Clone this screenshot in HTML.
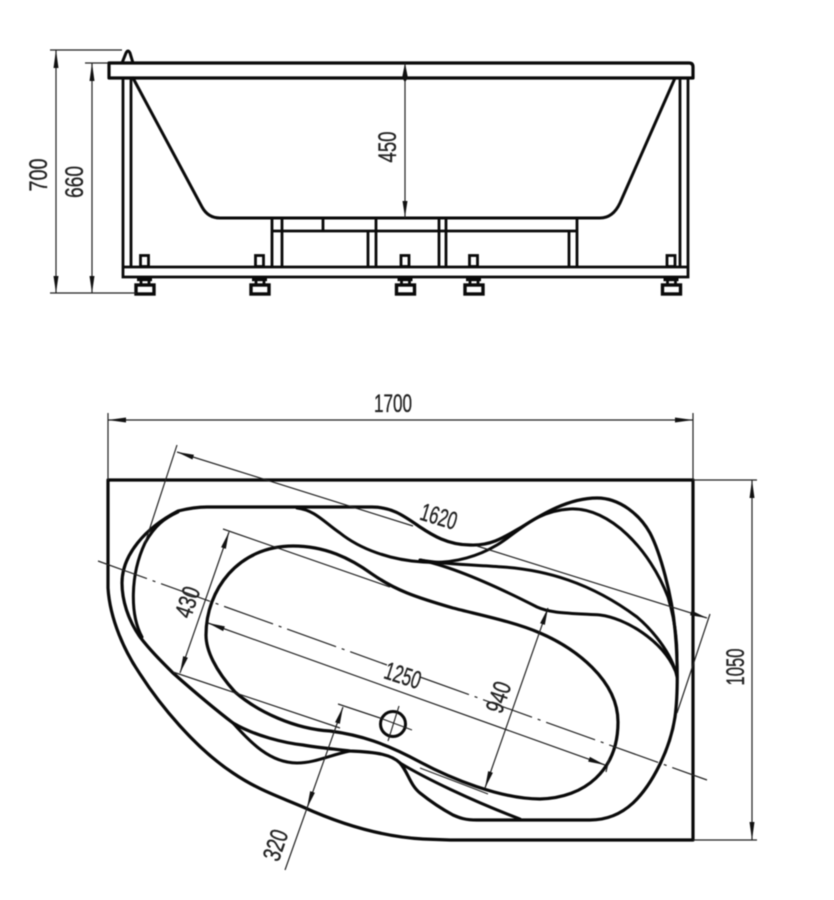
<!DOCTYPE html>
<html lang="en">
<head>
<meta charset="utf-8">
<title>Bathtub dimensions</title>
<style>
html,body{margin:0;padding:0;background:#fff;width:834px;height:900px;overflow:hidden}
svg{display:block;filter:blur(.4px)}
.k{fill:none;stroke:#0a0a0a;stroke-width:3;stroke-linecap:round;stroke-linejoin:round}
.m{fill:none;stroke:#0a0a0a;stroke-width:2.8}
.d{fill:none;stroke:#222;stroke-width:1.2}
.a{fill:#111;stroke:none}
text{font-family:"Liberation Sans",sans-serif;font-size:25px;fill:#222;stroke:#222;stroke-width:.35;text-anchor:middle}
</style>
</head>
<body>
<svg width="834" height="900" viewBox="0 0 834 900" xmlns="http://www.w3.org/2000/svg">
<rect width="834" height="900" fill="#fff"/>

<!-- side view: rim -->
<path class="k" d="M122 63 L126 53 Q128 49 130 53 L133 63"/>
<path class="k" style="stroke-width:3.200" d="M109 63 H689 Q693 63 693 67 V78 H109 Z"/>
<!-- tub -->
<path class="k" d="M133 78 L202 207 Q208 218 220 218 H600 Q613 218 620 203 L675 78"/>
<!-- frame -->
<path class="m" d="M123 78 V277 H688 V78 M131 78 V267 M680 78 V267 M123 267 H688"/>
<!-- supports -->
<path class="m" d="M272 218 V267 M282 218 V267 M272 231 H577 M323 218 V231 M376 218 V267 M368 231 V267 M439 218 V267 M446 218 V267 M577 218 V267 M569 231 V267"/>
<!-- feet -->
<g id="f1" fill="none" stroke="#0a0a0a" stroke-width="2.800">
<rect x="140.500" y="255.500" width="8" height="11"/>
<rect x="136" y="285" width="18" height="9" stroke-width="3.400"/>
<path d="M137 279.500 H152" stroke-width="3.400"/>
<path d="M141 280 V285 M149 280 V285"/>
</g>
<use href="#f1" x="115"/>
<use href="#f1" x="260.500"/>
<use href="#f1" x="329"/>
<use href="#f1" x="526.500"/>

<!-- side dims -->
<path class="d" d="M50 50 H122 M50 293 H136 M85 63 H108 M56 50 V293 M92 63 V293 M405 63 V218"/>
<path class="a" d="M56 50 L58.500 68 H53.500 Z M56 293 L58.500 276 H53.500 Z M92 63 L94.500 81 H89.500 Z M92 293 L94.500 276 H89.500 Z M405 63 L408 78 L405 82 L402 78 Z M405 217 L407.500 201 H402.500 Z"/>
<text transform="translate(38,175) rotate(-90)" y="9" textLength="33" lengthAdjust="spacingAndGlyphs">700</text>
<text transform="translate(74,182) rotate(-90)" y="9" textLength="32" lengthAdjust="spacingAndGlyphs">660</text>
<text transform="translate(387,147) rotate(-90)" y="9" textLength="31" lengthAdjust="spacingAndGlyphs">450</text>

<!-- plan: outer contour -->
<path class="k" style="stroke-width:3.200" d="M108 480 V588 C110 620 125 652 140 674 C160 705 195 748 233 773 C258 790 280 797 303 807 C325 817 370 836 423 839 L450 840 H693 V480 Z"/>
<!-- big contour -->
<path class="k" style="stroke-width:3.200" d="M207 507 H372 C392 507 404 516 420 527 C432 535 448 545 470 545 C490 546 503 538 520 528 C535 519 565 498 597 498 C620 498 640 515 650 533 C660 552 672 595 675 630 C678 660 678 695 675 717 C670 750 652 785 633 803 C620 815 605 820 590 820 H477 C465 820 460 818 453 815 C440 808 430 801 420 793 C410 785 408 772 400 763 C392 755 378 752 350 751 C335 749 320 748 303 745 C285 743 255 736 233 723 C212 707 190 688 173 673 C160 660 150 650 140 637 C128 620 122 600 122 583 C122 555 145 528 178 511 C190 508 200 507 207 507 Z"/>
<!-- left inner -->
<path class="k" d="M142 637 C130 615 130 575 145 543 C155 525 165 518 178 512"/>
<!-- lower branches -->
<path class="k" d="M233 723 C250 742 270 763 297 763 C315 763 330 755 350 751"/>
<path class="k" d="M400 763 C425 778 470 800 520 819"/>
<!-- upper wave -->
<path class="k" d="M297 508 C315 510 325 523 340 533 C360 549 390 560 423 562 C450 564 475 558 497 545 C520 531 535 511 570 509 C610 507 650 550 668 597 C675 620 677 640 677 657"/>
<path class="k" d="M420 560 C450 565 480 565 503 567 C545 570 590 582 637 617 C650 628 672 652 677 677"/>
<path class="k" d="M420 560 C450 566 490 583 537 607 C550 613 565 613 600 615 C625 618 662 640 675 670"/>
<!-- basin -->
<path class="k" style="stroke-width:3.200" d="M293 546 C325 546 350 558 372 574 C395 590 415 597 453 608 C480 615 515 622 540 633 C575 648 618 680 618 722 C618 770 585 798 540 799 C500 799 450 778 420 762 C385 743 360 735 330 731 C295 729 258 712 235 692 C215 670 206 650 206 635 C206 590 238 546 293 546 Z"/>
<!-- drain -->
<circle class="k" cx="393" cy="724" r="12.500"/>
<path class="d" d="M399 706 L388 741 M380 718 L412 730"/>

<!-- plan dims -->
<path class="d" d="M108 413 V480 M693 413 V480 M108 420 H693 M693 480 H757 M693 840 H757 M752 480 V840"/>
<path class="a" d="M108 420 L126 417.500 V422.500 Z M693 420 L675 417.500 V422.500 Z M752 480 L754.500 498 H749.500 Z M752 840 L754.500 822 H749.500 Z"/>
<path class="d" d="M177 445 L145 543 M177 452 L413 526 M477 546 L707 618 M710 614 L677 713"/>
<path class="d" d="M229 532 L180 673 M223 529 L390 587 M173 672 L340 728"/>
<path class="d" d="M208 623 L605 765 M609 759 L606 772"/>
<path class="d" d="M548 608 L485 788 M420 768 L488 794"/>
<path class="d" d="M343 707 L285 870 M338 704 L380 718"/>
<!-- centre line -->
<path class="d" d="M98 561 L387 665" stroke-dasharray="52 6 3 6"/>
<path class="d" d="M420 677 L707 780" stroke-dasharray="52 6 3 6"/>
<!-- angled arrows -->
<g class="a">
<path transform="translate(177,452) rotate(197.400)" d="M0 0L-17 -2.500V2.500Z"/>
<path transform="translate(707,618) rotate(17.400)" d="M0 0L-17 -2.500V2.500Z"/>
<path transform="translate(229,532) rotate(-71)" d="M0 0L-17 -2.500V2.500Z"/>
<path transform="translate(180,673) rotate(109)" d="M0 0L-17 -2.500V2.500Z"/>
<path transform="translate(208,623) rotate(199.800)" d="M0 0L-17 -2.500V2.500Z"/>
<path transform="translate(605,765) rotate(19.800)" d="M0 0L-17 -2.500V2.500Z"/>
<path transform="translate(548,608) rotate(-71)" d="M0 0L-17 -2.500V2.500Z"/>
<path transform="translate(485,788) rotate(109)" d="M0 0L-17 -2.500V2.500Z"/>
<path transform="translate(343,707) rotate(-71)" d="M0 0L-17 -2.500V2.500Z"/>
<path transform="translate(307,808) rotate(109)" d="M0 0L-17 -2.500V2.500Z"/>
</g>

<!-- labels -->
<text x="393" y="412" textLength="38" lengthAdjust="spacingAndGlyphs">1700</text>
<text transform="translate(735,667) rotate(-90)" y="9" textLength="37" lengthAdjust="spacingAndGlyphs">1050</text>
<text transform="translate(439,516) rotate(17)" y="9" textLength="37" lengthAdjust="spacingAndGlyphs">1620</text>
<text transform="translate(403,675) rotate(18)" y="9" textLength="37" lengthAdjust="spacingAndGlyphs">1250</text>
<text transform="translate(187,602) rotate(-71)" y="9" textLength="31" lengthAdjust="spacingAndGlyphs">430</text>
<text transform="translate(498,697) rotate(-71)" y="9" textLength="31" lengthAdjust="spacingAndGlyphs">940</text>
<text transform="translate(275,845) rotate(-71)" y="9" textLength="31" lengthAdjust="spacingAndGlyphs">320</text>
</svg>
</body>
</html>
